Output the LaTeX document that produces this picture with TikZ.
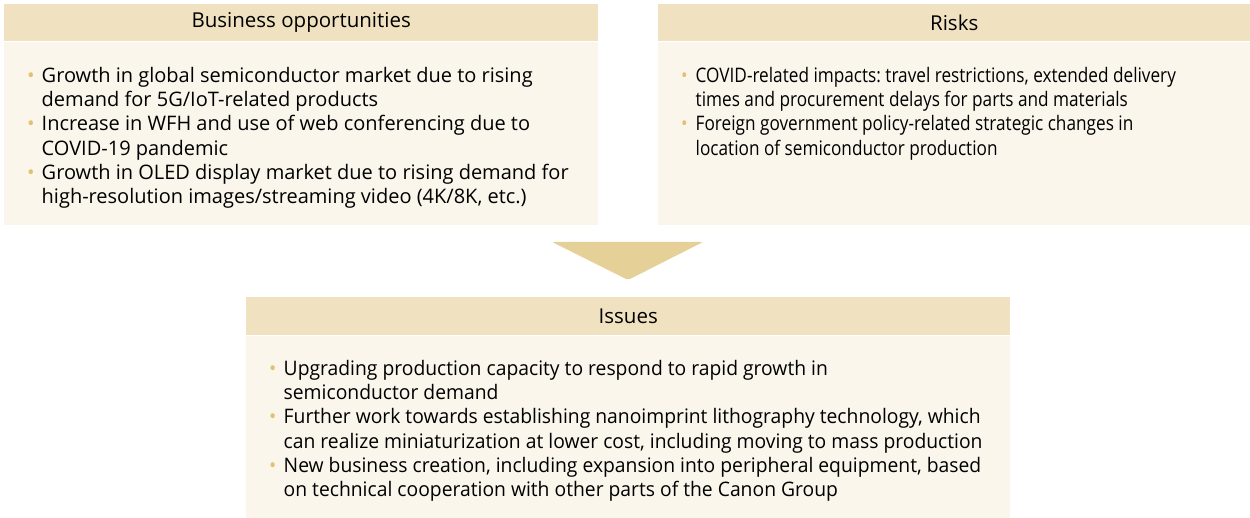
\documentclass[tikz,border=0pt]{standalone}
\usepackage{fontspec}
\setmainfont{Open Sans}
\newfontfamily\riskfont{Open Sans}[FakeStretch=0.86]
\newfontfamily\issfont{Open Sans}[FakeStretch=0.965]
\usetikzlibrary{positioning, calc}
\definecolor{headfill}{RGB}{240,226,192}
\definecolor{bodyfill}{RGB}{250,246,236}
\definecolor{arrowfill}{RGB}{229,208,152}
\definecolor{bulletcol}{RGB}{226,192,112}
\newcommand{\bul}{\makebox[14.5pt][l]{\textcolor{bulletcol}{\textbullet}}}
\newcommand{\cont}{\hspace*{14.5pt}}
\frenchspacing

\begin{document}
\begin{tikzpicture}[x=1pt, y=-1pt,
    headbox/.style={fill=headfill, inner sep=0pt, font=\fontsize{20.5}{22}\selectfont},
    bodybox/.style={fill=bodyfill, inner sep=0pt},
    itemtext/.style={anchor=north west, inner sep=0pt, align=left,
      font=\fontsize{20}{24.35}\selectfont}]
  \useasboundingbox (0,0) rectangle (1250,518);
  % upper row
  \node[headbox, minimum width=594pt, minimum height=37pt, anchor=north west] (bizhead) at (4,4) {Business opportunities};
  \node[bodybox, minimum width=594pt, minimum height=183pt, anchor=north] (bizbody) at (bizhead.south) {};
  \node[itemtext] (bizlist) at (27,66.8) {%
    \bul Growth in global semiconductor market due to rising\\
    \cont demand for 5G/IoT-related products\\
    \bul Increase in WFH and use of web conferencing due to\\
    \cont COVID-19 pandemic\\
    \bul Growth in OLED display market due to rising demand for\\
    \cont high-resolution images/streaming video (4K/8K, etc.)};
  \node[headbox, minimum width=592pt, minimum height=37pt, anchor=north west] (riskhead) at (658,4) {Risks};
  \node[bodybox, minimum width=592pt, minimum height=183pt, anchor=north] (riskbody) at (riskhead.south) {};
  \node[itemtext, font=\riskfont\fontsize{20}{24.35}\selectfont] (risklist) at (681,66.8) {%
    \bul COVID-related impacts: travel restrictions, extended delivery\\
    \cont times and procurement delays for parts and materials\\
    \bul Foreign government policy-related strategic changes in\\
    \cont location of semiconductor production};
  % arrow down
  \coordinate (tipL) at (552,242);
  \coordinate (tipR) at (703,242);
  \coordinate (tipB) at (628,280);
  \fill[arrowfill, rounded corners=2pt] (tipL) -- (tipR) -- (tipB) -- cycle;
  % lower box
  \node[headbox, minimum width=764pt, minimum height=38pt, anchor=north west] (isshead) at (246,297) {Issues};
  \node[bodybox, minimum width=764pt, minimum height=183pt, anchor=north] (issbody) at (isshead.south) {};
  \node[itemtext, font=\issfont\fontsize{20}{24.35}\selectfont] (isslist) at (269,359.8) {%
    \bul Upgrading production capacity to respond to rapid growth in\\
    \cont semiconductor demand\\
    \bul Further work towards establishing nanoimprint lithography technology, which\\
    \cont can realize miniaturization at lower cost, including moving to mass production\\
    \bul New business creation, including expansion into peripheral equipment, based\\
    \cont on technical cooperation with other parts of the Canon Group};
\end{tikzpicture}
\end{document}
